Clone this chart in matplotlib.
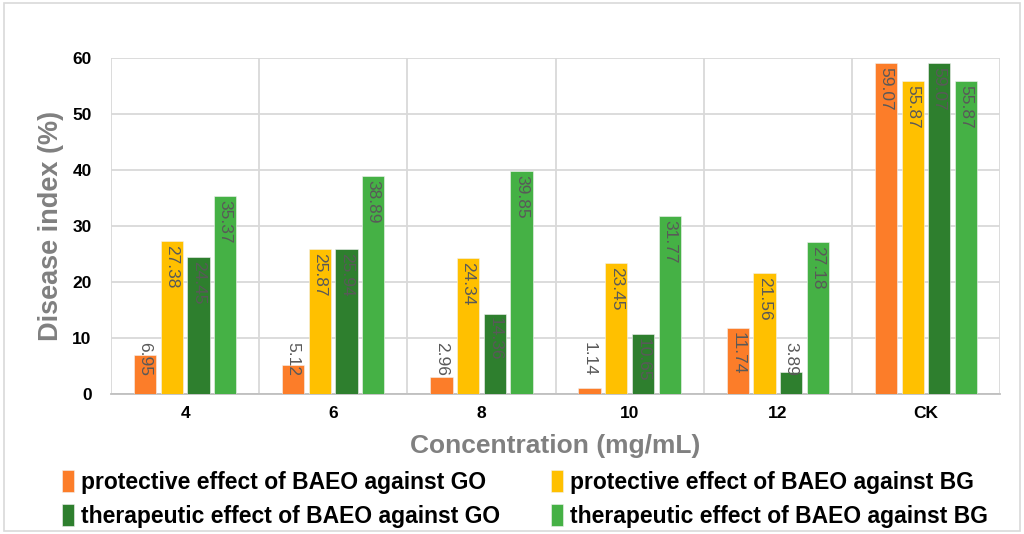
import numpy as np
import matplotlib.pyplot as plt
from matplotlib.patches import Rectangle

categories = ["4", "6", "8", "10", "12", "CK"]
prot_go = [6.95, 5.12, 2.96, 1.14, 11.74, 59.07]
prot_bg = [27.38, 25.87, 24.34, 23.45, 21.56, 55.87]
ther_go = [24.45, 25.94, 14.36, 10.65, 3.89, 59.07]
ther_bg = [35.37, 38.89, 39.85, 31.77, 27.18, 55.87]

series_names = ["protective effect of BAEO against GO",
                "protective effect of BAEO against BG",
                "therapeutic effect of BAEO against GO",
                "therapeutic effect of BAEO against BG"]
colors = ["#FC7D29", "#FFC000", "#2E7F2E", "#45B145"]

plt.rcParams['font.family'] = ['Liberation Sans', 'DejaVu Sans']

fig = plt.figure(figsize=(10.24, 5.34), dpi=100)
ax = fig.add_axes([0.1084, 0.2622, 0.8682, 0.6292])

x = np.arange(len(categories))
width = 0.15
step = 0.18
all_series = [prot_go, prot_bg, ther_go, ther_bg]
handles = []
for i, vals in enumerate(all_series):
    pos = x + (i - 1.5) * step
    h = ax.bar(pos, vals, width, color=colors[i], edgecolor="#f2f2f2", linewidth=0.4,
               label=series_names[i], zorder=3)
    handles.append(h)
    for xp, v in zip(pos, vals):
        top = max(v - 0.7, 9.3)
        ax.text(xp, top, "%.2f" % v, rotation=-90, ha="center", va="top",
                fontsize=12.5, color="#595959", zorder=4)

ax.set_xlim(-0.5, len(categories) - 0.5)
ax.set_ylim(0, 60)
ax.set_yticks(np.arange(0, 61, 10))
ax.set_xticks(x)
ax.set_xticklabels(categories)
ax.set_xticks(np.arange(-0.5, len(categories), 1), minor=True)
ax.grid(axis="y", color="#D9D9D9", linewidth=1.3, zorder=0)
ax.grid(axis="x", which="minor", color="#D9D9D9", linewidth=1.3, zorder=0)
ax.tick_params(axis="both", which="both", length=0)
ax.tick_params(axis="y", pad=14)
ax.tick_params(axis="x", pad=9)
for lab in ax.get_xticklabels() + ax.get_yticklabels():
    lab.set_fontweight("bold")
    lab.set_fontsize(12.5)
for s in ["top", "right", "left"]:
    ax.spines[s].set_visible(False)
ax.spines["bottom"].set_color("#BFBFBF")
ax.spines["bottom"].set_linewidth(1.3)

ax.set_ylabel("Disease index (%)", fontsize=19.5, fontweight="bold", color="#808080", labelpad=6)
ax.set_xlabel("Concentration (mg/mL)", fontsize=19, fontweight="bold", color="#808080", labelpad=9)

# row-wise order like the original legend
order = [0, 2, 1, 3]
fig.legend([handles[k] for k in order], [series_names[k] for k in order],
           loc="lower left", bbox_to_anchor=(0.040, -0.027), ncol=2, frameon=False,
           prop={"weight": "bold", "size": 16.5}, handlelength=0.55, handleheight=1.1,
           handletextpad=0.3, columnspacing=2.2, labelspacing=0.45)

fig.patches.append(Rectangle((0.004, 0.006), 0.992, 0.988, transform=fig.transFigure,
                             fill=False, edgecolor="#D9D9D9", linewidth=1.2))

fig.savefig("out.png", dpi=100)
